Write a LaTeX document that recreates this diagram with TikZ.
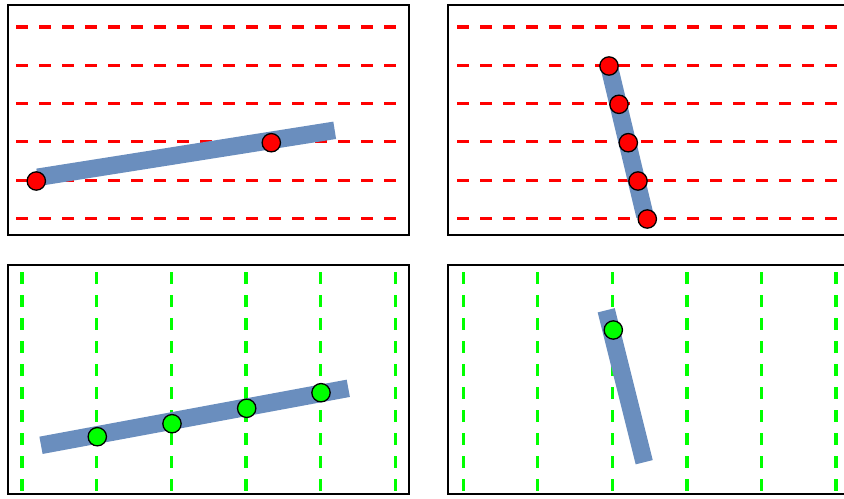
\documentclass[tikz,border=0pt]{standalone}
\usepackage{xcolor}
\usepackage{tikz}
\usetikzlibrary{positioning}
\definecolor{barblue}{RGB}{106,142,190}

\begin{document}
\begin{tikzpicture}[
    x=0.03cm, y=-0.03cm,
    frame/.style={draw=black, line width=1.2pt},
    redscan/.style={draw=red, line width=2.7pt, dash pattern=on 0.36cm off 0.33cm},
    greenscan/.style={draw=green, line width=2.7pt, dash pattern=on 0.36cm off 0.33cm},
    bar/.style={draw=barblue, line width=15pt},
    hit/.style={circle, draw=black, line width=1.1pt, minimum size=0.55cm, inner sep=0pt},
    redhit/.style={hit, fill=red},
    greenhit/.style={hit, fill=green}
]
    \useasboundingbox (0,0) rectangle (844,498);

    % frames
    \draw[frame] (8,5) rectangle (409,235);
    \draw[frame] (860,5) -- (448,5) -- (448,235) -- (860,235);
    \draw[frame] (8,265) rectangle (409,494);
    \draw[frame] (860,265) -- (448,265) -- (448,494) -- (860,494);

    % scan lines
    \foreach \y in {27,65.3,103.6,141.9,180.2,218.5} {
        \draw[redscan] (16,\y) -- (396,\y);
        \draw[redscan] (457,\y) -- (838,\y);
    }
    \foreach \x in {22,96.7,171.3,246,320.6,395.3} {
        \draw[greenscan] (\x,272) -- (\x,491);
    }
    \foreach \x in {463.3,537.7,612.3,687,761.3,836} {
        \draw[greenscan] (\x,272) -- (\x,491);
    }

    % top left
    \coordinate (tlA) at (37.7,177.3);
    \coordinate (tlB) at (334.7,130.3);
    \draw[bar] (tlA) -- (tlB);
    \node[redhit] (tl1) at (36.3,181) {};
    \node[redhit] (tl2) at (271.3,142.7) {};

    % top right
    \coordinate (trA) at (609,66);
    \coordinate (trB) at (645,216);
    \draw[bar] (trA) -- (trB);
    \node[redhit] (tr1) at (609,66) {};
    \node[redhit] (tr2) at (619,104.3) {};
    \node[redhit] (tr3) at (628.3,142.7) {};
    \node[redhit] (tr4) at (638,181) {};
    \node[redhit] (tr5) at (647.3,219) {};

    % bottom left
    \coordinate (blA) at (41,445.3);
    \coordinate (blB) at (348.3,388.3);
    \draw[bar] (blA) -- (blB);
    \node[greenhit] (bl1) at (97.3,436.7) {};
    \node[greenhit] (bl2) at (172,423.7) {};
    \node[greenhit] (bl3) at (246.7,408.3) {};
    \node[greenhit] (bl4) at (321,392.7) {};

    % bottom right
    \coordinate (brA) at (606.2,310.3);
    \coordinate (brB) at (644.2,462.2);
    \draw[bar] (brA) -- (brB);
    \node[greenhit] (br1) at (613.3,330) {};
\end{tikzpicture}
\end{document}
